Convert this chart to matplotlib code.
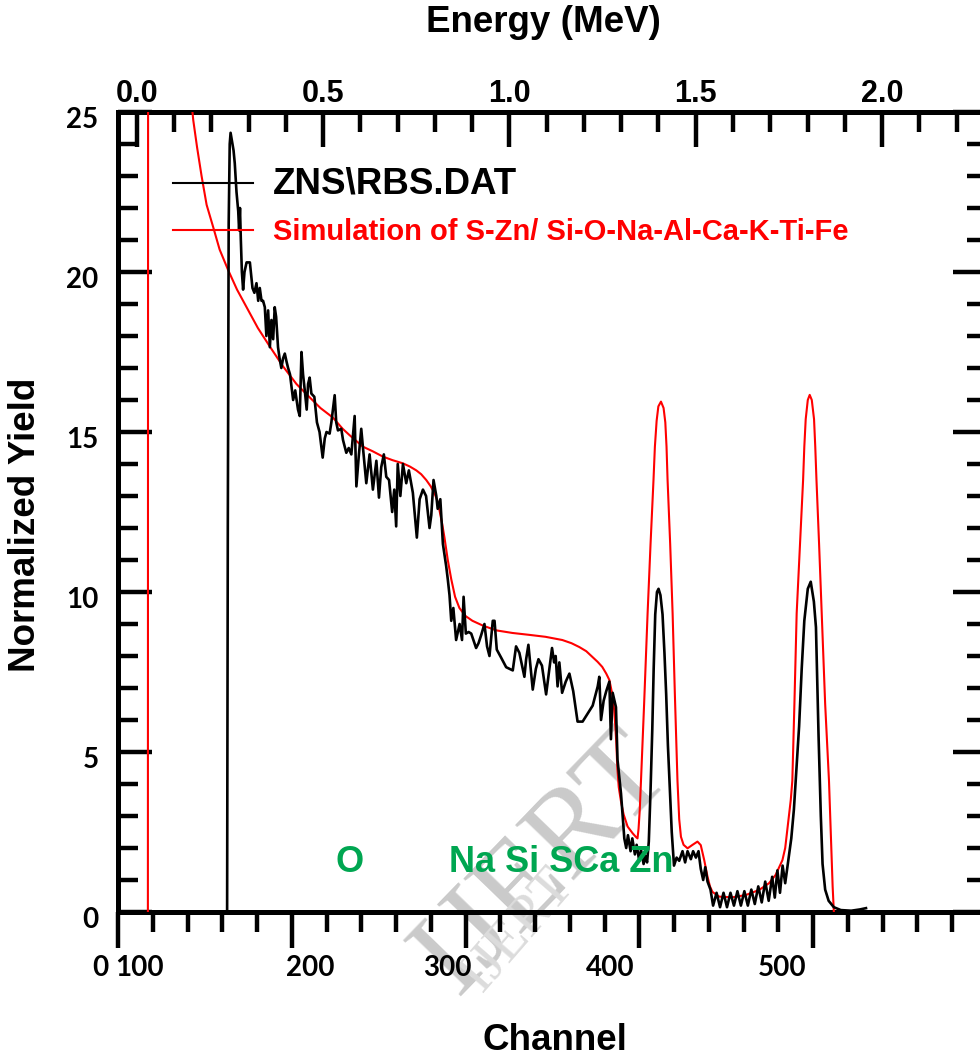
import matplotlib
matplotlib.use("Agg")
import matplotlib.pyplot as plt
from matplotlib.ticker import MultipleLocator, NullFormatter, FixedLocator
from matplotlib.font_manager import FontProperties
import matplotlib.transforms as mtrans

# ---------------- data ----------------
exp_channel = [162.8, 163.2, 163.7, 164.3, 164.8, 165.6, 166.5, 167.2, 168.2, 169.2, 169.7, 170.2, 170.7,
               171.3, 172.0, 172.8, 174.0, 175.9, 177.4, 178.5, 179.7, 180.7, 181.6, 182.6, 183.5, 184.5,
               185.4, 186.4, 187.4, 188.3, 189.3, 190.2, 191.0, 192.1, 193.0, 194.0, 195.0, 196.0, 197.0,
               197.9, 199.0, 200.8, 202.0, 203.6, 204.6, 205.6, 206.5, 207.5, 208.6, 209.4, 210.3, 211.3,
               213.0, 214.5, 216.0, 217.8, 219.0, 220.0, 221.8, 222.8, 224.7, 225.6, 226.6, 228.5, 229.5,
               231.4, 232.8, 234.3, 236.2, 237.2, 238.5, 240.0, 241.0, 242.9, 244.8, 246.7, 248.7, 250.2,
               251.5, 253.0, 254.4, 256.0, 257.8, 259.0, 260.1, 261.0, 262.5, 264.0, 265.9, 267.4, 269.7,
               272.0, 273.6, 275.5, 277.3, 279.3, 280.3, 281.6, 283.2, 284.0, 285.5, 287.0, 288.9, 289.8,
               290.8, 291.8, 293.0, 294.6, 296.6, 298.0, 298.9, 300.2, 301.8, 303.3, 306.1, 307.5, 309.0,
               310.9, 312.4, 313.8, 315.7, 316.7, 318.0, 320.5, 323.4, 327.2, 329.1, 331.0, 333.9, 334.9,
               336.2, 338.7, 340.5, 342.0, 344.0, 346.4, 348.3, 349.8, 351.0, 351.9, 353.0, 354.0, 355.6,
               357.7, 359.8, 362.0, 364.5, 367.4, 373.2, 376.1, 377.0, 378.0, 379.5, 381.0, 382.8, 383.7,
               384.7, 386.6, 387.5, 389.5, 391.4, 392.5, 393.5, 395.0, 396.0, 397.5, 398.5, 400.0, 401.0,
               402.5, 403.5, 404.5, 405.5, 406.5, 407.5, 408.3, 409.2, 410.2, 411.1, 412.2, 413.4, 414.5,
               415.5, 416.5, 417.5, 418.7, 420.0, 421.5, 423.0, 424.9, 426.4, 427.8, 429.7, 431.0, 432.6,
               434.1, 435.4, 436.8, 438.0, 439.3, 441.0, 442.5, 444.5, 446.5, 448.5, 450.5, 452.5, 454.5,
               456.5, 458.5, 460.5, 462.5, 464.5, 466.5, 468.5, 470.5, 472.5, 474.5, 476.5, 478.0, 479.5,
               481.0, 482.5, 484.0, 485.5, 487.5, 489.0, 490.5, 492.0, 493.5, 495.0, 497.0, 498.7, 500.5,
               501.7, 503.2, 504.5, 505.5, 507.0, 509.0, 512.0, 516.0, 522.0, 527.0, 530.5]
exp_yield = [0.0, 12.0, 21.5, 24.0, 24.35, 24.1, 23.8, 23.4, 22.5, 21.9, 21.3, 22.0, 21.0,
             20.0, 19.45, 20.0, 20.3, 20.3, 19.5, 19.35, 19.65, 19.1, 19.5, 19.1, 19.1, 18.9,
             18.0, 18.8, 17.65, 18.5, 17.9, 18.9, 18.6, 17.65, 17.3, 17.0, 17.3, 17.45, 17.2,
             17.0, 16.8, 16.0, 16.3, 15.7, 15.5, 17.5, 16.8, 16.3, 15.7, 16.5, 16.7, 16.2,
             16.1, 15.3, 15.0, 14.2, 14.8, 15.0, 14.95, 15.3, 16.15, 15.3, 15.05, 15.1, 14.75,
             14.35, 14.5, 14.3, 15.5, 13.3, 14.2, 15.1, 14.5, 13.4, 14.3, 13.2, 14.1, 12.95,
             13.9, 14.3, 13.6, 13.5, 12.5, 13.2, 12.05, 14.0, 13.0, 14.0, 13.4, 13.8, 13.1,
             11.7, 12.9, 13.2, 13.0, 12.0, 12.4, 13.5, 13.0, 12.6, 12.9, 11.5, 10.8, 10.4,
             9.9, 9.1, 9.5, 8.5, 9.0, 8.5, 9.85, 8.7, 8.75, 8.7, 8.25, 8.4, 8.65,
             9.0, 8.3, 8.0, 9.1, 9.1, 8.2, 7.95, 7.65, 7.55, 8.3, 8.1, 7.35, 7.9,
             8.35, 6.95, 7.6, 7.9, 7.7, 6.8, 7.6, 8.25, 7.8, 8.0, 7.05, 7.8, 6.85,
             7.2, 7.45, 6.9, 5.95, 5.95, 6.45, 7.05, 7.35, 6.0, 6.6, 6.9, 7.2, 5.4,
             6.85, 6.4, 4.75, 3.7, 2.3, 2.0, 2.4, 1.9, 2.3, 1.8, 2.1, 1.6, 1.95,
             1.5, 1.75, 1.55, 2.2, 3.8, 5.7, 7.6, 9.3, 10.0, 10.1, 9.9, 9.3, 8.1,
             6.8, 5.2, 4.0, 2.5, 1.45, 1.7, 1.6, 1.9, 1.55, 1.9, 1.65, 1.9, 1.7,
             1.9, 1.35, 1.0, 1.4, 0.95, 0.7, 0.2, 0.6, 0.15, 0.6, 0.15, 0.6, 0.2,
             0.65, 0.2, 0.65, 0.2, 0.7, 0.25, 0.8, 0.3, 0.95, 0.35, 1.1, 0.45, 1.3,
             0.6, 1.45, 0.9, 1.5, 2.3, 3.2, 4.5, 5.8, 7.6, 9.1, 10.1, 10.32, 9.7,
             8.9, 5.5, 3.0, 1.5, 0.7, 0.35, 0.15, 0.06, 0.04, 0.08, 0.12]

sim_channel = [117.2, 117.6, 122.0, 130.0, 137.0, 140.0, 143.3, 145.5, 148.1, 151.0, 154.8, 158.5,
               163.4, 168.5, 174.0, 180.5, 187.4, 195.0, 202.7, 210.0, 216.5, 223.7, 229.3, 233.3,
               241.0, 246.5, 252.5, 258.0, 264.0, 268.0, 271.7, 274.5, 277.4, 280.0, 282.2, 283.8,
               285.0, 286.5, 287.9, 289.8, 291.8, 294.0, 296.5, 300.0, 304.0, 310.0, 317.8, 327.0,
               336.8, 346.0, 355.7, 361.0, 365.5, 369.5, 373.0, 376.0, 378.7, 381.0, 382.8, 384.5,
               385.6, 386.3, 386.8, 387.4, 388.2, 389.5, 391.0, 393.3, 396.2, 398.0, 399.0, 399.6,
               400.3, 401.0, 402.8, 404.8, 406.5, 408.2, 409.0, 410.0, 411.0, 412.5, 414.0, 415.0,
               415.7, 416.3, 417.8, 419.2, 420.5, 422.0, 423.0, 424.0, 425.5, 427.8, 430.7, 433.5,
               435.4, 437.4, 439.3, 440.7, 442.1, 446.0, 453.6, 461.3, 469.0, 474.7, 478.5, 482.4,
               484.0, 485.2, 487.2, 488.1, 489.3, 490.6, 492.5, 494.3, 495.0, 495.8, 497.0, 498.1,
               499.3, 500.6, 501.3, 502.0, 503.5, 505.0, 507.0, 509.2, 510.5, 511.3, 512.0]
sim_yield = [0.0, 90.0, 60.0, 38.0, 29.0, 26.6, 24.75, 23.9, 23.0, 22.1, 21.4, 20.7,
             20.06, 19.45, 18.9, 18.25, 17.67, 17.05, 16.5, 16.1, 15.75, 15.45, 15.1, 14.9,
             14.54, 14.4, 14.23, 14.12, 14.02, 13.92, 13.8, 13.68, 13.5, 13.3, 13.08, 12.85,
             12.56, 12.15, 11.7, 11.0, 10.4, 9.85, 9.5, 9.25, 9.1, 8.95, 8.8, 8.72,
             8.66, 8.6, 8.5, 8.4, 8.28, 8.15, 7.97, 7.82, 7.66, 7.45, 7.25, 6.8,
             6.3, 5.75, 5.28, 4.5, 3.9, 3.45, 3.05, 2.67, 2.46, 2.35, 2.3, 2.6,
             3.2, 4.1, 6.5, 9.33, 11.5, 13.5, 14.54, 15.35, 15.8, 15.95, 15.75, 15.3,
             14.54, 13.5, 11.5, 9.33, 6.8, 4.1, 2.9, 2.35, 2.1, 1.99, 2.1, 2.2,
             2.09, 1.62, 1.1, 0.8, 0.63, 0.48, 0.46, 0.53, 0.69, 0.9, 1.16, 1.62,
             2.0, 2.56, 3.5, 4.1, 6.5, 9.33, 11.5, 13.5, 14.54, 15.4, 16.0, 16.16,
             16.0, 15.4, 14.54, 13.5, 11.5, 9.33, 6.5, 4.1, 2.0, 0.8, 0.0]

series_labels = ["ZNS\\RBS.DAT", "Simulation of S-Zn/ Si-O-Na-Al-Ca-K-Ti-Fe"]
element_labels = ["O", "Na Si SCa Zn"]
element_channels = [233.5, 290.5]
element_yield = 1.56

x_ticklabels = ["0", "100", "200", "300", "400", "500"]
x_ticklabel_pos = [89.6, 112.6, 210.5, 289.4, 383.0, 482.0]
y_ticks = [0, 5, 10, 15, 20, 25]
energy_ticks = [0.0, 0.5, 1.0, 1.5, 2.0]

# channel <-> energy (MeV) calibration
E_OFFSET_CH = 110.9
MEV_PER_CH = 0.004664


def ch2e(c):
    return (c - E_OFFSET_CH) * MEV_PER_CH


def e2ch(e):
    return e / MEV_PER_CH + E_OFFSET_CH


# ---------------- figure ----------------
W, H = 980, 1061
fig = plt.figure(figsize=(W / 100, H / 100), dpi=100)
ax = fig.add_axes([118 / W, 149 / H, 868.75 / W, 800 / H])

arial_b = dict(family=["Liberation Sans", "DejaVu Sans"], weight="bold")
tick_b = dict(family=["Lato", "DejaVu Sans"], weight="bold")

# watermark
ax.text(0.49, 0.06, "IJERT", transform=ax.transAxes, rotation=46, fontsize=88,
        family=["Liberation Serif", "DejaVu Serif"], color="#cacaca", ha="center", va="center",
        zorder=0, clip_on=False)
ax.text(0.46, -0.0225, "IJERT", transform=ax.transAxes, rotation=49, fontsize=40,
        family=["Liberation Serif", "DejaVu Serif"], color="#dcdcdc", ha="center", va="center",
        zorder=0, clip_on=False)

sim_line, = ax.plot(sim_channel, sim_yield, color="#ff0000", lw=1.5, zorder=3)
exp_line, = ax.plot(exp_channel, exp_yield, color="black", lw=1.9, zorder=4)

ax.set_xlim(100, 600)
ax.set_ylim(0, 25)

for s in ax.spines.values():
    s.set_linewidth(3.6)

ax.xaxis.set_major_locator(MultipleLocator(100))
ax.xaxis.set_minor_locator(MultipleLocator(20))
ax.xaxis.set_major_formatter(NullFormatter())
ax.tick_params(axis="x", which="major", direction="out", length=26, width=3.2,
               bottom=True, top=False)
ax.tick_params(axis="x", which="minor", direction="out", length=14.5, width=3.2,
               bottom=True, top=False)

ax.set_yticks(y_ticks)
ax.yaxis.set_minor_locator(MultipleLocator(1))
ax.tick_params(axis="y", which="major", direction="in", length=24.5, width=3.2,
               left=True, right=True, pad=14, labelsize=20)
ax.tick_params(axis="y", which="minor", direction="in", length=14.5, width=3.2,
               left=True, right=True)
ylab_off = mtrans.ScaledTranslation(0, -5 / 100, fig.dpi_scale_trans)
for lab in ax.get_yticklabels():
    lab.set_family(tick_b["family"])
    lab.set_weight("bold")
    lab.set_transform(lab.get_transform() + ylab_off)

# bottom tick labels as drawn in the reference
xtr = mtrans.blended_transform_factory(ax.transData, ax.transAxes)
for lab, pos in zip(x_ticklabels, x_ticklabel_pos):
    ax.text(pos, -0.07, lab, transform=xtr, ha="center", va="center", fontsize=20,
            clip_on=False, **tick_b)

# top energy axis
secax = ax.secondary_xaxis("top", functions=(ch2e, e2ch))
secax.xaxis.set_major_locator(FixedLocator(energy_ticks))
secax.xaxis.set_minor_locator(MultipleLocator(0.1))
secax.tick_params(axis="x", which="major", direction="in", length=25, width=3.2, pad=2,
                  labelsize=22)
secax.tick_params(axis="x", which="minor", direction="in", length=14.5, width=3.2)
secax.spines["top"].set_linewidth(3.6)
secax.xaxis.set_major_formatter(plt.FuncFormatter(lambda v, p: f"{v:.1f}"))
for lab in secax.get_xticklabels():
    lab.set_family(arial_b["family"])
    lab.set_weight("bold")
    lab.set_fontsize(22)

# axis titles
fig.text(543 / W, 1 - 23 / H, "Energy (MeV)", ha="center", va="center", fontsize=26.5, **arial_b)
fig.text(555 / W, 1 - 1041 / H, "Channel", ha="center", va="center", fontsize=26.5, **arial_b)
fig.text(26 / W, 1 - 525 / H, "Normalized Yield", ha="center", va="center", rotation=90,
         fontsize=26.5, **arial_b)

# element markers
ax.text(element_channels[0], element_yield, element_labels[0], color="#00a651", ha="center",
        va="center", fontsize=26, zorder=5, **arial_b)
ax.text(element_channels[1], element_yield, element_labels[1], color="#00a651", ha="left",
        va="center", fontsize=26, zorder=5, **arial_b)

# legend
leg = ax.legend([exp_line, sim_line], series_labels, loc="upper left",
                bbox_to_anchor=(173 / W, 1 - 166 / H), bbox_transform=fig.transFigure,
                frameon=False, borderpad=0, borderaxespad=0, handlelength=2.74,
                handletextpad=0.68, labelspacing=0.6,
                prop=FontProperties(size=21, **arial_b))
leg.get_texts()[0].set_fontsize(26.5)
leg.get_texts()[1].set_color("#ff0000")
for h in leg.legend_handles:
    h.set_linewidth(1.5)

fig.savefig("out.png", dpi=100)
